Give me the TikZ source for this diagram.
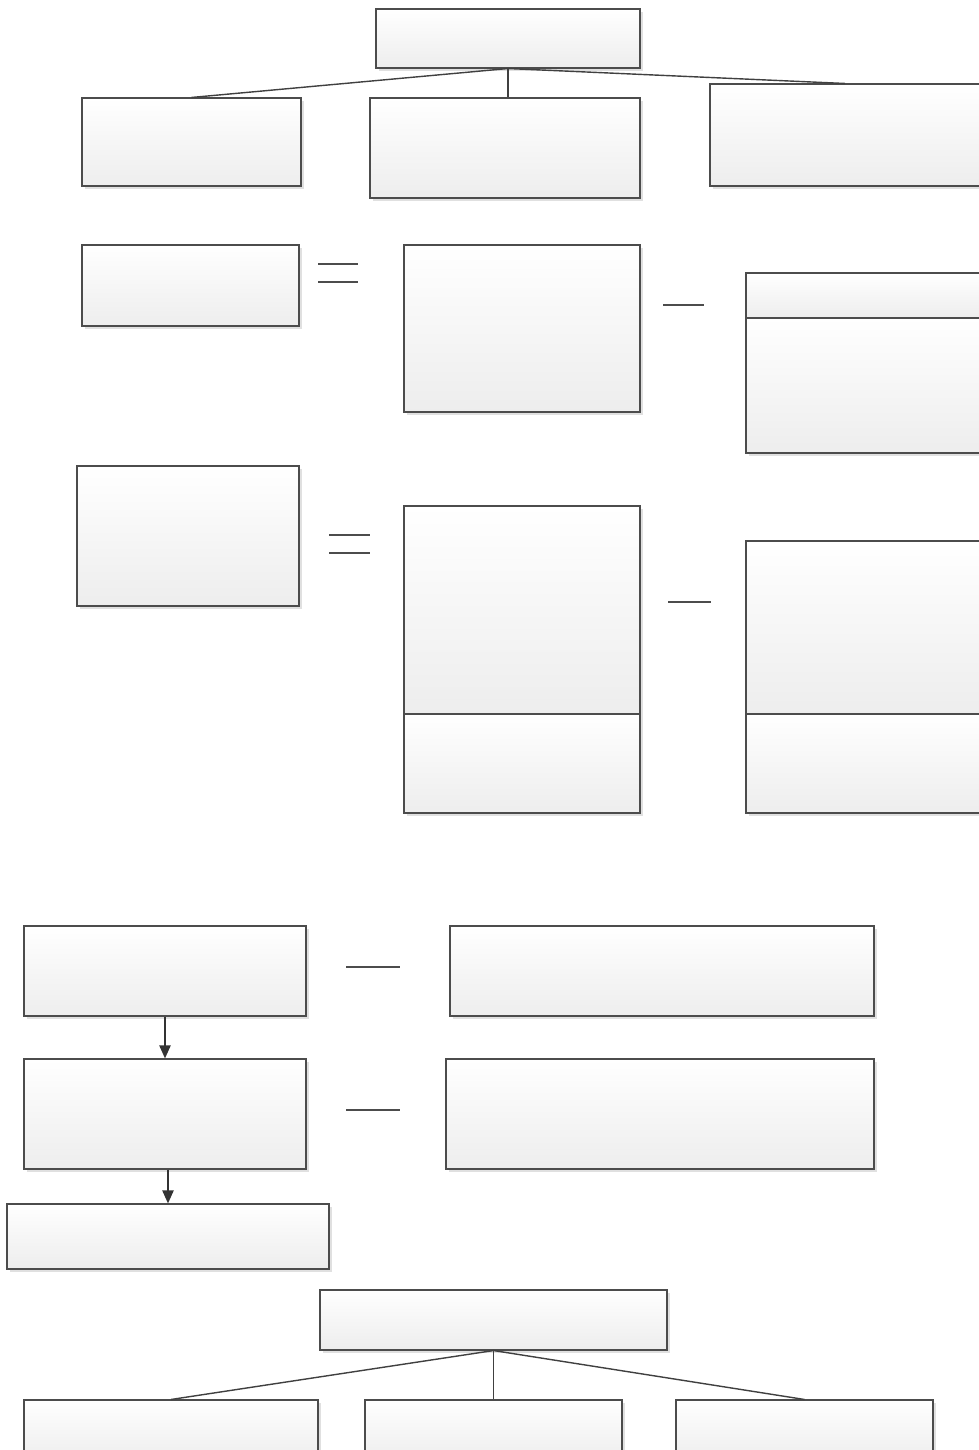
\documentclass[tikz,border=0pt]{standalone}
\usepackage{tikz}
\usetikzlibrary{arrows.meta,positioning,fit,shadows}

\begin{document}
\begin{tikzpicture}[
        x=0.02cm, y=-0.02cm,
        box/.style={draw=black!70, line width=0.6pt, inner sep=0pt, top color=white, bottom color=black!7,
            drop shadow={shadow xshift=1.8pt, shadow yshift=-1.8pt, fill=black!12, opacity=1}},
        link/.style={draw=black!75, line width=0.8pt},
        arrow/.style={-{Triangle[length=0.26cm, width=0.22cm]}, draw=black!80, line width=1.2pt},
        sign/.style={draw=black!70, line width=1pt}
    ]
        \useasboundingbox (0,0) rectangle (979,1450);
        \clip (0,0) rectangle (979,1450);

        % top tree
        \node[box, fit={(376,9) (640,68)}] (top) {};
        \node[box, fit={(82,98) (301,186)}] (topL) {};
        \node[box, fit={(370,98) (640,198)}] (topM) {};
        \node[box, fit={(710,84) (980,186)}] (topR) {};
        \draw[link] (top.south) -- (topL.north);
        \draw[link] (top.south) -- (top.south |- topM.north);
        \draw[link] (top.south) -- (topR.north);

        % first equation
        \node[box, fit={(82,245) (299,326)}] (eqA) {};
        \node[box, fit={(404,245) (640,412)}] (midA) {};
        \node[box, fit={(746,273) (980,318)}] (resAhead) {};
        \node[box, fit={(746,318) (980,453)}] (resAbody) {};
        \draw[sign] (318,264) -- (358,264);
        \draw[sign] (318,282) -- (358,282);
        \draw[sign] (663,305) -- (704,305);

        % second equation
        \node[box, fit={(77,466) (299,606)}] (eqB) {};
        \node[box, fit={(404,506) (640,714)}] (midB) {};
        \node[box, fit={(404,714) (640,813)}] (midBfoot) {};
        \node[box, fit={(746,541) (980,714)}] (resB) {};
        \node[box, fit={(746,714) (980,813)}] (resBfoot) {};
        \draw[sign] (329,535) -- (370,535);
        \draw[sign] (329,553) -- (370,553);
        \draw[sign] (668,602) -- (711,602);

        % chain
        \node[box, fit={(24,926) (306,1016)}] (stepA) {};
        \node[box, fit={(450,926) (874,1016)}] (noteA) {};
        \node[box, fit={(24,1059) (306,1169)}] (stepB) {};
        \node[box, fit={(446,1059) (874,1169)}] (noteB) {};
        \node[box, fit={(7,1204) (329,1269)}] (stepC) {};
        \draw[sign] (346,967) -- (400,967);
        \draw[sign] (346,1110) -- (400,1110);
        \draw[arrow] (stepA.south) -- (stepB.north);
        \draw[arrow] (stepC.north |- stepB.south) -- (stepC.north);

        % bottom tree
        \node[box, fit={(320,1290) (667,1350)}] (root) {};
        \node[box, fit={(24,1400) (318,1462)}] (leafL) {};
        \node[box, fit={(365,1400) (622,1462)}] (leafM) {};
        \node[box, fit={(676,1400) (933,1462)}] (leafR) {};
        \draw[link] (root.south) -- (leafL.north);
        \draw[link] (root.south) -- (leafM.north);
        \draw[link] (root.south) -- (leafR.north);
    \end{tikzpicture}
\end{document}
